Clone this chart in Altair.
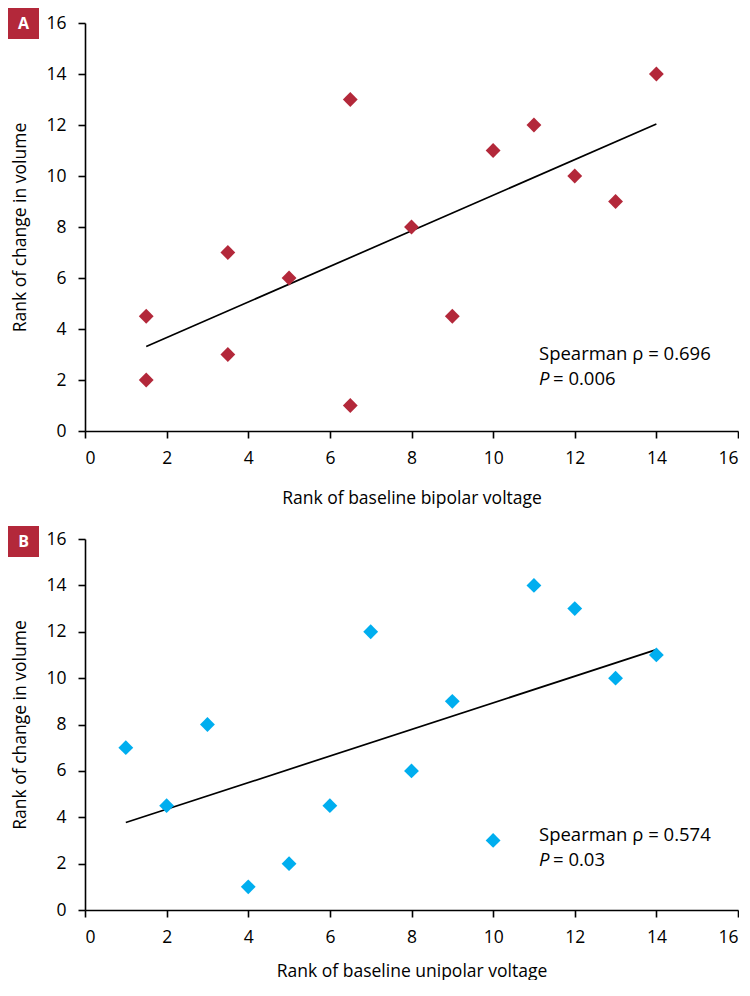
import altair as alt
import pandas as pd

# Panel A data
a_x = [1.5, 1.5, 3.5, 3.5, 5, 6.5, 6.5, 8, 9, 10, 11, 12, 13, 14]
a_y = [4.5, 2, 7, 3, 6, 13, 1, 8, 4.5, 11, 12, 10, 9, 14]
# Panel B data
b_x = [1, 2, 3, 4, 5, 6, 7, 8, 9, 10, 11, 12, 13, 14]
b_y = [7, 4.5, 8, 1, 2, 4.5, 12, 6, 9, 3, 14, 13, 10, 11]

ticks = [0, 2, 4, 6, 8, 10, 12, 14, 16]
FONT = "Open Sans"
RED = "#B3283A"
BLUE = "#00AEEF"


def panel(xs, ys, color, label, xtitle, rho, pval, height, box_top, ann_y, tpad):
    df = pd.DataFrame({"x": xs, "y": ys})
    xenc = alt.X("x:Q", scale=alt.Scale(domain=[0, 16], nice=False, zero=False),
                 axis=alt.Axis(values=ticks, title=xtitle, labelPadding=11,
                               titlePadding=tpad))
    yenc = alt.Y("y:Q", scale=alt.Scale(domain=[0, 16], nice=False, zero=False),
                 axis=alt.Axis(values=ticks, title="Rank of change in volume",
                               labelPadding=12, titlePadding=16))
    pts = alt.Chart(df).mark_point(shape="diamond", filled=True, size=220,
                                   color=color, opacity=1).encode(x=xenc, y=yenc)
    line = alt.Chart(df).transform_regression(
        "x", "y", extent=[min(xs), max(xs)]
    ).mark_line(color="black", strokeWidth=1.7).encode(x="x:Q", y="y:Q")

    lab = pd.DataFrame({"t": [label]})
    box = alt.Chart(lab).mark_rect(color=RED).encode(
        x=alt.value(-77), x2=alt.value(-46), y=alt.value(box_top), y2=alt.value(box_top + 31))
    boxt = alt.Chart(lab).mark_text(color="white", fontWeight="bold", fontSize=16,
                                    font=FONT, baseline="middle", align="center").encode(
        x=alt.value(-61.5), y=alt.value(box_top + 16), text="t:N")

    t1 = alt.Chart(pd.DataFrame({"t": ["Spearman ρ = " + rho]})).mark_text(
        font=FONT, fontSize=18.5, align="left", baseline="alphabetic", color="black").encode(
        x=alt.value(454), y=alt.value(ann_y), text="t:N")
    t2 = alt.Chart(pd.DataFrame({"t": ["P"]})).mark_text(
        font=FONT, fontSize=18.5, fontStyle="italic", align="left", baseline="alphabetic",
        color="black").encode(x=alt.value(454), y=alt.value(ann_y + 25), text="t:N")
    t3 = alt.Chart(pd.DataFrame({"t": ["= " + pval]})).mark_text(
        font=FONT, fontSize=18.5, align="left", baseline="alphabetic", color="black").encode(
        x=alt.value(468), y=alt.value(ann_y + 25), text="t:N")

    return alt.layer(line, pts, box, boxt, t1, t2, t3).properties(width=653, height=height)


pa = panel(a_x, a_y, RED, "A", "Rank of baseline bipolar voltage", "0.696", "0.006",
           408, -15, 337, 23)
pb = panel(b_x, b_y, BLUE, "B", "Rank of baseline unipolar voltage", "0.574", "0.03",
           371, -13, 302, 17)

chart = alt.vconcat(pa, pb, spacing=19).properties(padding=0).configure_view(
    stroke=None
).configure_axis(
    grid=False, domainColor="black", domainWidth=1.6, tickColor="black",
    tickWidth=1.6, tickSize=7, labelFont=FONT, labelFontSize=17.5, labelColor="black",
    titleFont=FONT, titleFontSize=17.5, titleFontWeight="normal", titleColor="black"
)

chart.save("out.html", embed_options={"renderer": "svg", "actions": False})
